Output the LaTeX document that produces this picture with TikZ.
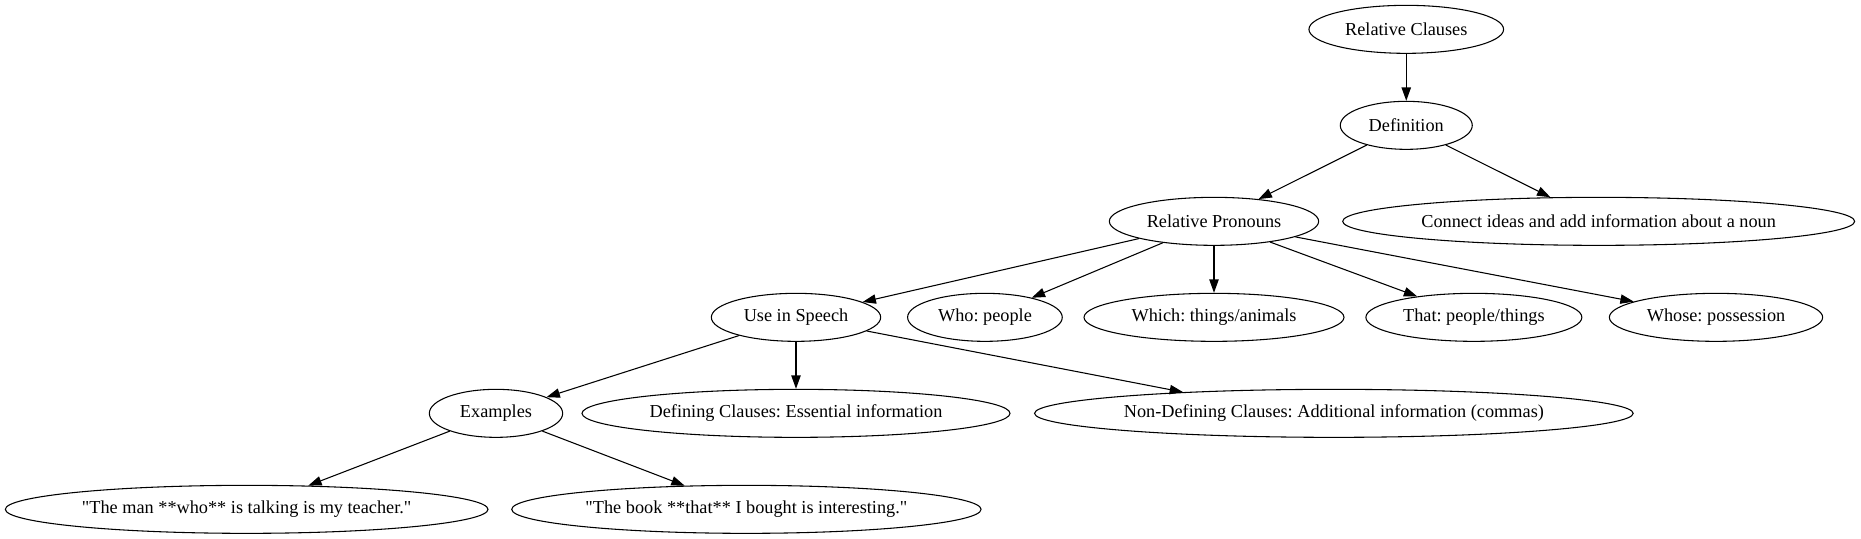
\documentclass[tikz,border=0pt]{standalone}
\usepackage{fontspec}
\newfontfamily\tfont{Liberation Serif}
\usetikzlibrary{shapes.geometric,arrows.meta}
\tikzset{
  nd/.style={ellipse, draw, line width=0.8pt, inner sep=0pt, minimum height=36pt,
    font=\tfont\fontsize{13.7}{16}\selectfont},
  edge/.style={line width=0.8pt, -{Triangle[length=10pt,width=7pt]}}
}
\begin{document}
\frenchspacing
\begin{tikzpicture}
\useasboundingbox (0,0) rectangle (1395.75pt,-404.25pt);
\node[nd, minimum width=146pt] (rc) at (1054.7pt,-22pt) {Relative Clauses};
\node[nd, minimum width=99pt] (def) at (1054.7pt,-94pt) {Definition};
\node[nd, minimum width=157pt] (rp) at (910.5pt,-166pt) {Relative Pronouns};
\node[nd, minimum width=384pt] (con) at (1199pt,-166pt) {Connect ideas and add information about a noun};
\node[nd, minimum width=127pt] (use) at (597pt,-238pt) {Use in Speech};
\node[nd, minimum width=116pt] (who) at (738.7pt,-238pt) {Who: people};
\node[nd, minimum width=195pt] (which) at (910.5pt,-238pt) {Which: things/animals};
\node[nd, minimum width=162pt] (that) at (1105.4pt,-238pt) {That: people/things};
\node[nd, minimum width=160pt] (whose) at (1287pt,-238pt) {Whose: possession};
\node[nd, minimum width=100pt] (ex) at (372pt,-310pt) {Examples};
\node[nd, minimum width=321pt] (dc) at (597pt,-310pt) {Defining Clauses: Essential information};
\node[nd, minimum width=449pt] (ndc) at (1000.4pt,-310pt) {Non-Defining Clauses: Additional information (commas)};
\node[nd, minimum width=362pt] (man) at (185pt,-382pt) {"The man **who** is talking is my teacher."};
\node[nd, minimum width=352pt] (book) at (559.8pt,-382pt) {"The book **that** I bought is interesting."};
\draw[edge] (rc) -- (def);
\draw[edge] (def) -- (rp);
\draw[edge] (def) -- (con);
\draw[edge] (rp) -- (use);
\draw[edge] (rp) -- (who);
\draw[edge] (rp) -- (which);
\draw[edge] (rp) -- (that);
\draw[edge] (rp) -- (whose);
\draw[edge] (use) -- (ex);
\draw[edge] (use) -- (dc);
\draw[edge] (use) -- (ndc.172);
\draw[edge] (ex) -- (man);
\draw[edge] (ex) -- (book);
\end{tikzpicture}
\end{document}
